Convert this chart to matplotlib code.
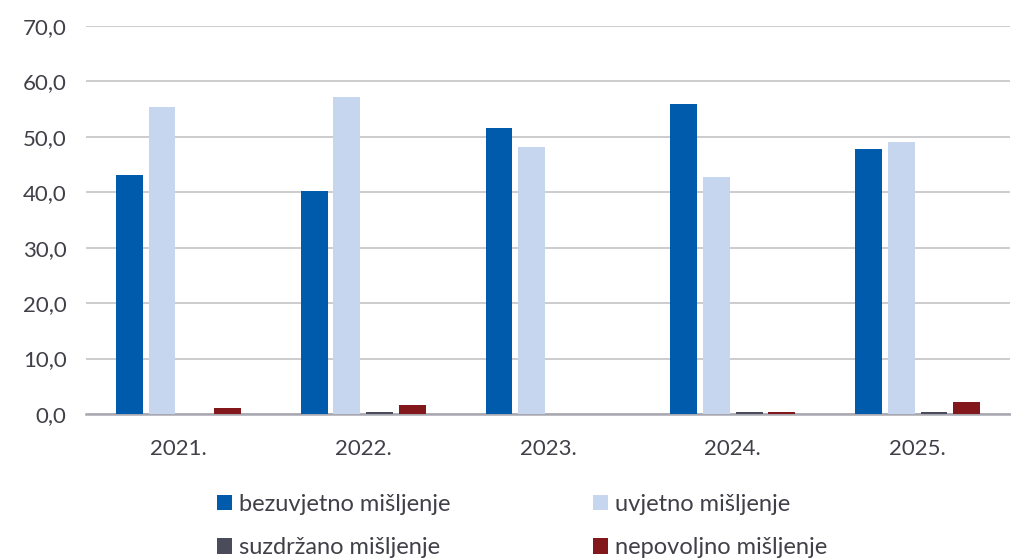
import numpy as np
import matplotlib
matplotlib.use("Agg")
from matplotlib import pyplot as plt

plt.rcParams['font.family'] = ['Lato', 'DejaVu Sans']

years = ["2021.", "2022.", "2023.", "2024.", "2025."]
series = ["bezuvjetno mišljenje", "uvjetno mišljenje",
          "suzdržano mišljenje", "nepovoljno mišljenje"]
bezuvjetno = [43.1, 40.2, 51.6, 55.9, 47.8]
uvjetno = [55.4, 57.2, 48.2, 42.8, 49.1]
suzdrzano = [0.0, 0.4, 0.0, 0.4, 0.4]
nepovoljno = [1.1, 1.6, 0.0, 0.4, 2.2]
colors = ["#005BAC", "#C5D6EE", "#4A4C5A", "#82181C"]

text_col = "#404048"

fig = plt.figure(figsize=(10.12, 5.6), dpi=100)
ax = fig.add_axes([0.085, 0.2607, 0.913, 0.6929])

x = np.arange(len(years))
w = 0.145
pitch = 0.177
handles = []
for i, vals in enumerate([bezuvjetno, uvjetno, suzdrzano, nepovoljno]):
    b = ax.bar(x + (i - 1.5) * pitch, vals, width=w, color=colors[i],
               label=series[i], zorder=3)
    handles.append(b)

ax.set_ylim(0, 70)
ax.set_xlim(-0.5, len(years) - 0.5)
ax.set_yticks(np.arange(0, 71, 10))
ax.set_yticklabels([f"{v:.1f}".replace(".", ",") for v in np.arange(0, 71, 10)])
ax.set_xticks(x)
ax.set_xticklabels(years)
ax.yaxis.grid(True, color="#c8c8cc", linewidth=1.3, zorder=0)
for s in ["top", "right", "left"]:
    ax.spines[s].set_visible(False)
ax.spines["bottom"].set_color("#a8a8b0")
ax.spines["bottom"].set_linewidth(1.8)
ax.tick_params(axis="both", length=0, labelsize=16, colors=text_col)
ax.tick_params(axis="y", pad=14)
ax.tick_params(axis="x", pad=18)

# legend filled row by row: bez, uvj / suzd, nep
order = [0, 2, 1, 3]
fig.legend([handles[i] for i in order], [series[i] for i in order],
           loc="upper left", bbox_to_anchor=(0.205, 0.135),
           ncol=2, frameon=False, fontsize=17, handlelength=0.65,
           handleheight=0.65, handletextpad=0.3, columnspacing=6.0,
           labelspacing=0.95, labelcolor=text_col, borderaxespad=0)

fig.savefig("out.png", dpi=100)
